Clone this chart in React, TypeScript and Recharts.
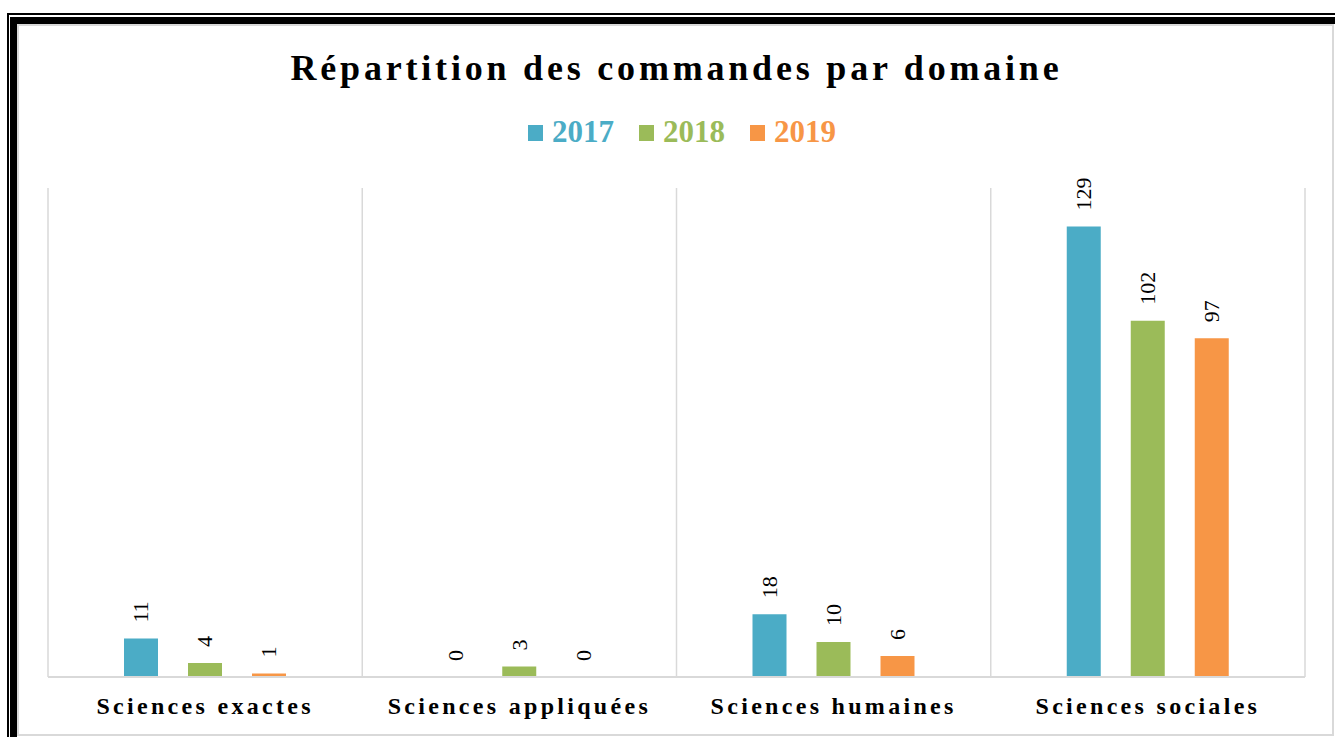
import React from 'react';
import { BarChart, Bar, XAxis, YAxis, CartesianGrid, LabelList } from 'recharts';

const categories = ['Sciences exactes', 'Sciences appliquées', 'Sciences humaines', 'Sciences sociales'];
const years = ['2017', '2018', '2019'];
const values2017 = [11, 0, 18, 129];
const values2018 = [4, 3, 10, 102];
const values2019 = [1, 0, 6, 97];

const colors = ['#4BACC6', '#9BBB59', '#F79646'];
const serif = '"Liberation Serif", "Times New Roman", serif';

const data = categories.map((name, i) => ({
  name,
  '2017': values2017[i],
  '2018': values2018[i],
  '2019': values2019[i],
}));

const ValueLabel = (props: any) => {
  const { x, y, width, value } = props;
  const cx = Number(x) + Number(width) / 2;
  const fs = 22;
  return (
    <text
      transform={`translate(${cx},${Number(y) - 16}) rotate(-90)`}
      x={0}
      y={fs * 0.33}
      textAnchor="start"
      style={{ fontFamily: serif, fontSize: fs }}
      fill="#000"
    >
      {value}
    </text>
  );
};

const CategoryTick = (props: any) => {
  const { x, y, payload } = props;
  return (
    <text
      x={x}
      y={y + 29}
      textAnchor="middle"
      style={{ fontFamily: serif, fontWeight: 'bold', fontSize: 24, letterSpacing: 3.3 }}
      fill="#000"
    >
      {payload.value}
    </text>
  );
};

// one grid line on each category boundary
const boundaryLines = ({ offset }: any) =>
  [0, 1, 2, 3, 4].map((i) => offset.left + (offset.width * i) / categories.length);

export default function App() {
  return (
    <div style={{ position: 'absolute', left: 0, top: 0, width: 1335, height: 737, background: '#fff', overflow: 'hidden' }}>
      {/* double frame, cut at right and bottom like the source screenshot */}
      <div style={{ position: 'absolute', left: 7, top: 13, width: 2000, height: 2000, borderTop: '2px solid #000', borderLeft: '2px solid #000' }} />
      <div style={{ position: 'absolute', left: 10, top: 17, width: 2000, height: 2000, borderTop: '7px solid #000', borderLeft: '7px solid #000' }} />
      <div style={{ position: 'absolute', left: 17, top: 24, width: 1317, height: 712, border: '2px solid #D9D9D9', boxSizing: 'border-box' }} />

      <div
        style={{
          position: 'absolute', left: 48, top: 50, width: 1257, textAlign: 'center',
          fontFamily: serif, fontWeight: 'bold', fontSize: 36, lineHeight: '36px', letterSpacing: 3.8, color: '#000',
        }}
      >
        Répartition des commandes par domaine
      </div>

      <div style={{ position: 'absolute', left: 528, top: 116, display: 'flex', gap: 25 }}>
        {years.map((yr, i) => (
          <div key={yr} style={{ display: 'flex', alignItems: 'center' }}>
            <div style={{ width: 15, height: 16, background: colors[i], marginRight: 9, marginTop: 2 }} />
            <span style={{ fontFamily: serif, fontWeight: 'bold', fontSize: 31, lineHeight: '31px', color: colors[i] }}>{yr}</span>
          </div>
        ))}
      </div>

      <div style={{ position: 'absolute', left: 0, top: 0 }}>
        <BarChart
          width={1335}
          height={737}
          data={data}
          margin={{ top: 188, right: 30, bottom: 0, left: 48 }}
          barSize={34}
          barGap={30}
        >
          <CartesianGrid horizontal={false} verticalCoordinatesGenerator={boundaryLines} stroke="#D9D9D9" strokeWidth={1.5} />
          <XAxis
            dataKey="name"
            height={60}
            axisLine={{ stroke: '#D9D9D9', strokeWidth: 2 }}
            tickLine={false}
            tick={<CategoryTick />}
            interval={0}
          />
          <YAxis hide domain={[0, 140]} />
          {years.map((yr, i) => (
            <Bar
              key={yr}
              dataKey={yr}
              fill={colors[i]}
              minPointSize={(v: number) => (v === 0 ? 0.01 : 0)}
              isAnimationActive={false}
            >
              <LabelList dataKey={yr} content={<ValueLabel />} />
            </Bar>
          ))}
        </BarChart>
      </div>
    </div>
  );
}
